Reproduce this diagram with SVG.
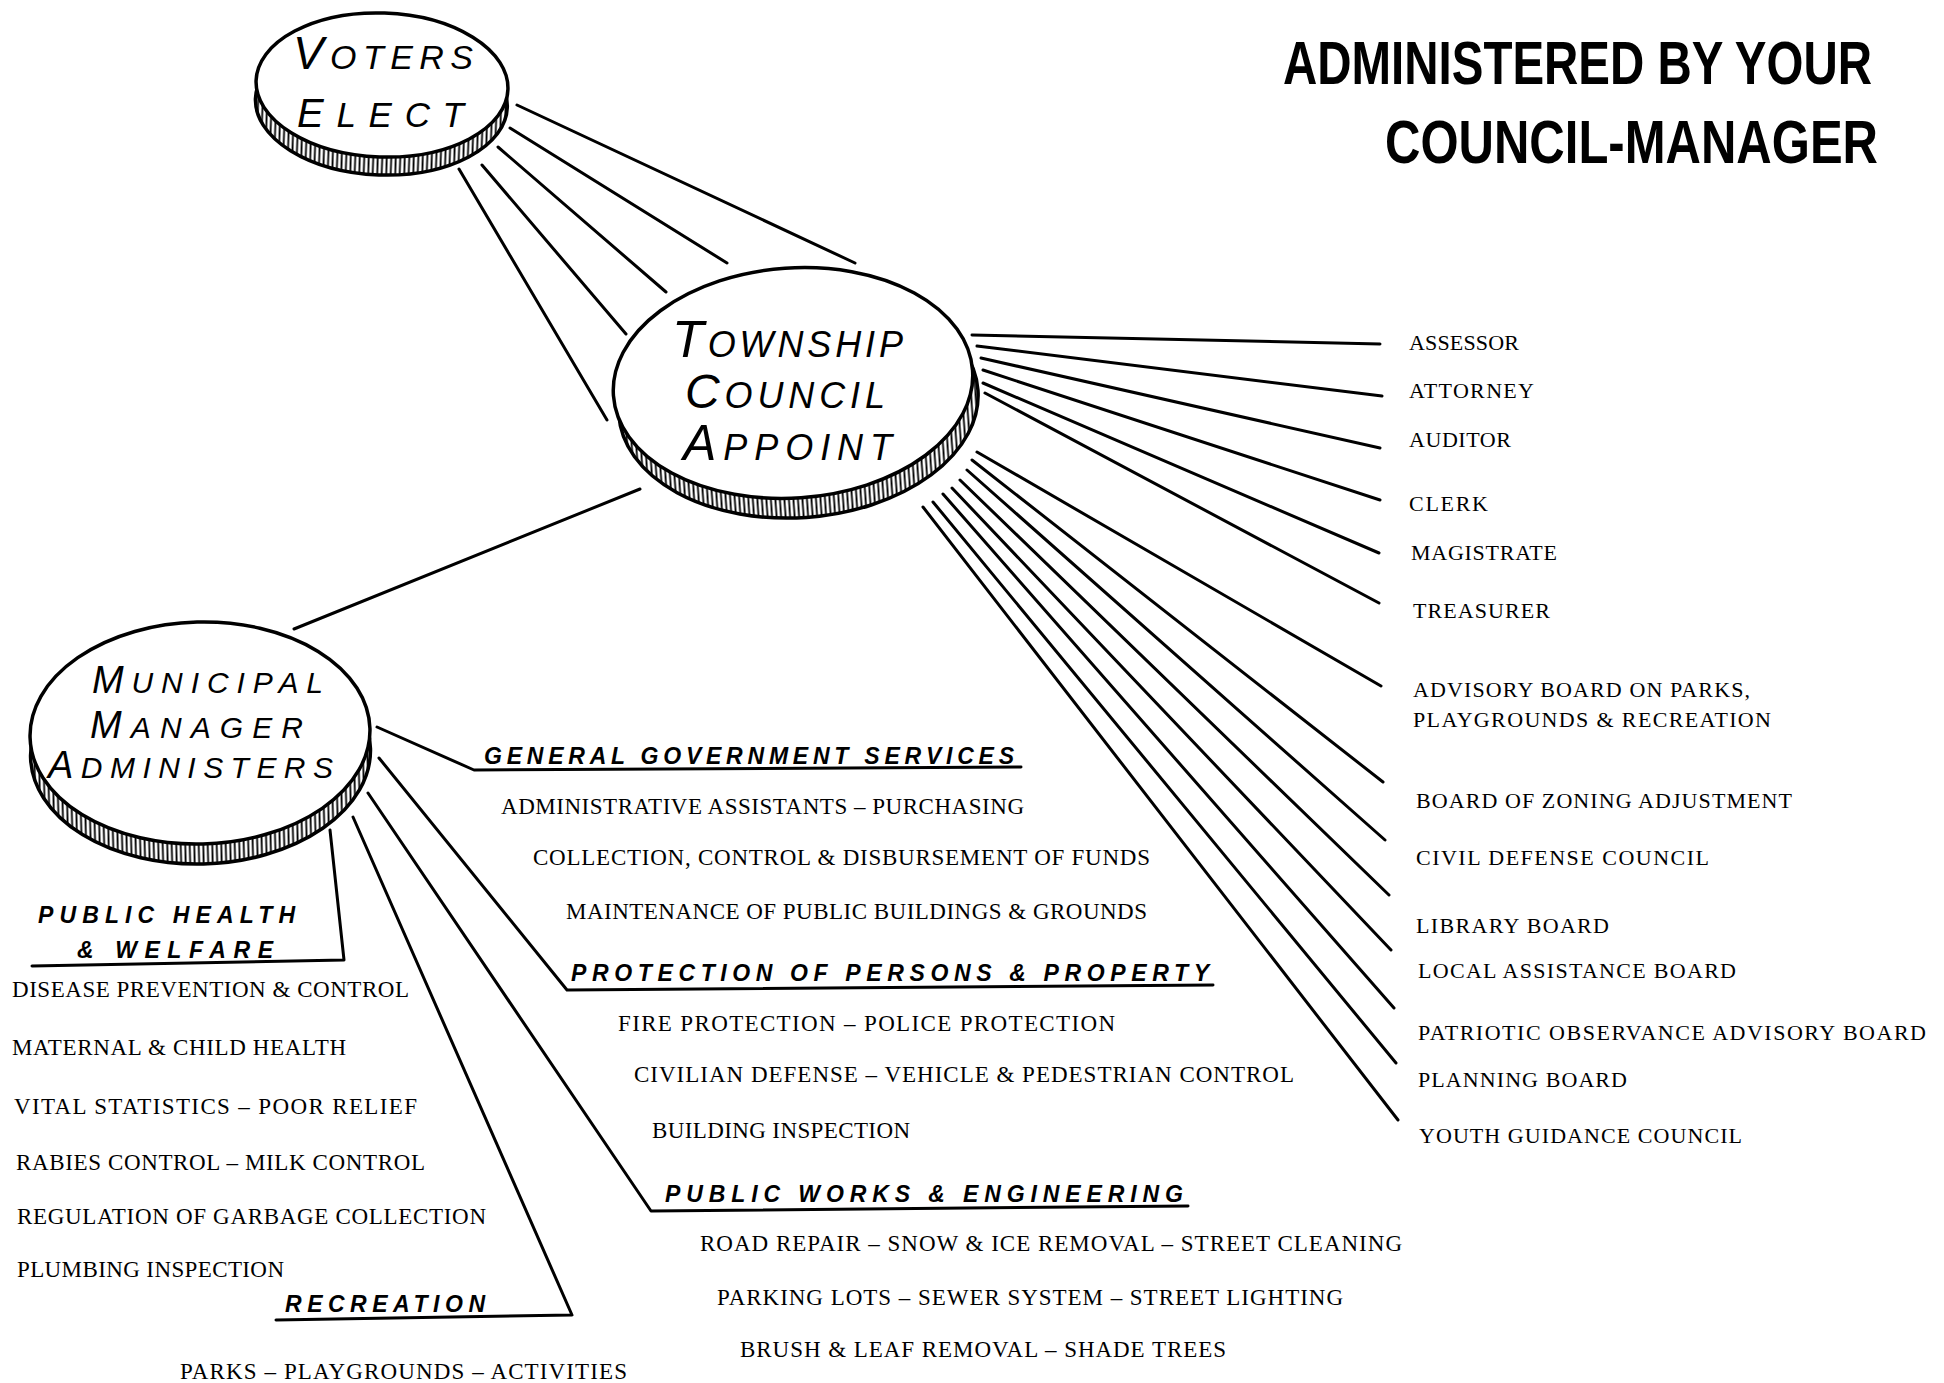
<svg xmlns="http://www.w3.org/2000/svg" width="1944" height="1383" viewBox="0 0 1944 1383">
<defs>
<pattern id="knurl" width="4.5" height="20" patternUnits="userSpaceOnUse">
<rect width="4.5" height="20" fill="#fff"/>
<rect x="1.4" width="1.8" height="20" fill="#000"/>
</pattern>
<style>
.ln{stroke:#000;stroke-width:3;fill:none;stroke-linecap:round;stroke-linejoin:round}
.face{fill:#fff;stroke:#000;stroke-width:3.5}
.rim{fill:url(#knurl);stroke:#000;stroke-width:3.5}
.cn{font-family:"Liberation Sans",Arial,sans-serif;font-style:italic;fill:#000}
.it{font-family:"Liberation Serif","Times New Roman",serif;font-size:23px;fill:#000}
.rt{font-family:"Liberation Serif","Times New Roman",serif;font-size:22px;fill:#000}
.hd{font-family:"Liberation Sans",Arial,sans-serif;font-weight:bold;font-style:italic;font-size:23px;fill:#000}
.tt{font-family:"Liberation Sans",Arial,sans-serif;font-weight:bold;font-size:47px;fill:#000}
</style>
</defs>
<rect width="1944" height="1383" fill="#fff"/>

<g id="connectors">
<!-- Voters to Township -->
<line class="ln" x1="517" y1="105" x2="855" y2="263"/>
<line class="ln" x1="510" y1="128" x2="727" y2="263"/>
<line class="ln" x1="498" y1="147" x2="666" y2="292"/>
<line class="ln" x1="482" y1="165" x2="626" y2="334"/>
<line class="ln" x1="459" y1="169" x2="607" y2="420"/>
<!-- Township to Municipal -->
<line class="ln" x1="640" y1="489" x2="294" y2="629"/>
<!-- Township to appointed offices -->
<line class="ln" x1="972" y1="335" x2="1380" y2="344"/>
<line class="ln" x1="977" y1="346" x2="1382" y2="396"/>
<line class="ln" x1="981" y1="358" x2="1380" y2="448"/>
<line class="ln" x1="983" y1="370" x2="1380" y2="500"/>
<line class="ln" x1="983" y1="383" x2="1379" y2="553"/>
<line class="ln" x1="985" y1="393" x2="1379" y2="603"/>
<line class="ln" x1="977" y1="452" x2="1381" y2="686"/>
<line class="ln" x1="972" y1="460" x2="1383" y2="782"/>
<line class="ln" x1="967" y1="470" x2="1385" y2="840"/>
<line class="ln" x1="960" y1="480" x2="1389" y2="895"/>
<line class="ln" x1="952" y1="488" x2="1391" y2="950"/>
<line class="ln" x1="943" y1="494" x2="1394" y2="1008"/>
<line class="ln" x1="933" y1="502" x2="1396" y2="1063"/>
<line class="ln" x1="923" y1="507" x2="1398" y2="1120"/>
<!-- Municipal branches -->
<polyline class="ln" points="377,727 474,770 1021,767"/>
<polyline class="ln" points="379,758 567,990 1213,985"/>
<polyline class="ln" points="368,793 651,1211 1188,1206"/>
<polyline class="ln" points="353,817 572,1315 276,1320"/>
<polyline class="ln" points="330,830 344,960 32,966"/>
</g>

<g id="node-voters">
<g transform="rotate(2 382 85)">
<ellipse class="rim" cx="382" cy="103" rx="126" ry="72"/>
<ellipse class="face" cx="382" cy="85" rx="126" ry="72"/>
</g>
<text class="cn" x="293" y="69" textLength="180" lengthAdjust="spacing"><tspan font-size="46">V</tspan><tspan font-size="34">OTERS</tspan></text>
<text class="cn" x="297" y="127" textLength="167" lengthAdjust="spacing"><tspan font-size="40">E</tspan><tspan font-size="35">LECT</tspan></text>
</g>

<g id="node-township">
<g transform="rotate(-4 793 383)">
<ellipse class="rim" cx="797" cy="403" rx="180" ry="115"/>
<ellipse class="face" cx="793" cy="383" rx="180" ry="115"/>
</g>
<text class="cn" x="672" y="357" textLength="231" lengthAdjust="spacing"><tspan font-size="52">T</tspan><tspan font-size="36">OWNSHIP</tspan></text>
<text class="cn" x="685" y="408" textLength="200" lengthAdjust="spacing"><tspan font-size="48">C</tspan><tspan font-size="36">OUNCIL</tspan></text>
<text class="cn" x="683" y="460" textLength="209" lengthAdjust="spacing"><tspan font-size="50">A</tspan><tspan font-size="36">PPOINT</tspan></text>
</g>

<g id="node-municipal">
<g transform="rotate(-1.5 200 733)">
<ellipse class="rim" cx="200" cy="753" rx="170" ry="111"/>
<ellipse class="face" cx="200" cy="733" rx="170" ry="111"/>
</g>
<text class="cn" x="92" y="693" textLength="231" lengthAdjust="spacing"><tspan font-size="38">M</tspan><tspan font-size="30">UNICIPAL</tspan></text>
<text class="cn" x="90" y="738" textLength="213" lengthAdjust="spacing"><tspan font-size="38">M</tspan><tspan font-size="30">ANAGER</tspan></text>
<text class="cn" x="48" y="778" textLength="285" lengthAdjust="spacing"><tspan font-size="38">A</tspan><tspan font-size="30">DMINISTERS</tspan></text>
</g>

<g id="title">
<text class="tt" transform="translate(1283 84) scale(1 1.3)" x="0" y="0" textLength="589" lengthAdjust="spacingAndGlyphs">ADMINISTERED BY YOUR</text>
<text class="tt" transform="translate(1385 163) scale(1 1.3)" x="0" y="0" textLength="493" lengthAdjust="spacingAndGlyphs">COUNCIL-MANAGER</text>
</g>

<g id="appointed">
<text id="assessor" class="rt" x="1409" y="350" textLength="110">ASSESSOR</text>
<text id="attorney" class="rt" x="1409" y="398" textLength="125">ATTORNEY</text>
<text id="auditor" class="rt" x="1409" y="447" textLength="102">AUDITOR</text>
<text id="clerk" class="rt" x="1409" y="511" textLength="79">CLERK</text>
<text id="magistrate" class="rt" x="1411" y="560" textLength="146">MAGISTRATE</text>
<text id="treasurer" class="rt" x="1413" y="618" textLength="137">TREASURER</text>
<g id="advisory-board">
<text class="rt" x="1413" y="697" textLength="337">ADVISORY BOARD ON PARKS,</text>
<text class="rt" x="1413" y="727" textLength="358">PLAYGROUNDS &amp; RECREATION</text>
</g>
<text id="zoning" class="rt" x="1416" y="808" textLength="376">BOARD OF ZONING ADJUSTMENT</text>
<text id="civil-defense" class="rt" x="1416" y="865" textLength="293">CIVIL DEFENSE COUNCIL</text>
<text id="library" class="rt" x="1416" y="933" textLength="193">LIBRARY BOARD</text>
<text id="local-assistance" class="rt" x="1418" y="978" textLength="318">LOCAL ASSISTANCE BOARD</text>
<text id="patriotic" class="rt" x="1418" y="1040" textLength="508">PATRIOTIC OBSERVANCE ADVISORY BOARD</text>
<text id="planning" class="rt" x="1418" y="1087" textLength="209">PLANNING BOARD</text>
<text id="youth" class="rt" x="1419" y="1143" textLength="323">YOUTH GUIDANCE COUNCIL</text>
</g>

<g id="general-government">
<text class="hd" x="484" y="764" textLength="530">GENERAL GOVERNMENT SERVICES</text>
<text class="it" x="501" y="814" textLength="523">ADMINISTRATIVE ASSISTANTS – PURCHASING</text>
<text class="it" x="533" y="865" textLength="617">COLLECTION, CONTROL &amp; DISBURSEMENT OF FUNDS</text>
<text class="it" x="566" y="919" textLength="581">MAINTENANCE OF PUBLIC BUILDINGS &amp; GROUNDS</text>
</g>

<g id="protection">
<text class="hd" x="571" y="981" textLength="638">PROTECTION OF PERSONS &amp; PROPERTY</text>
<text class="it" x="618" y="1031" textLength="497">FIRE PROTECTION – POLICE PROTECTION</text>
<text class="it" x="634" y="1082" textLength="660">CIVILIAN DEFENSE – VEHICLE &amp; PEDESTRIAN CONTROL</text>
<text class="it" x="652" y="1138" textLength="258">BUILDING INSPECTION</text>
</g>

<g id="public-works">
<text class="hd" x="665" y="1202" textLength="518">PUBLIC WORKS &amp; ENGINEERING</text>
<text class="it" x="700" y="1251" textLength="702">ROAD REPAIR – SNOW &amp; ICE REMOVAL – STREET CLEANING</text>
<text class="it" x="717" y="1305" textLength="626">PARKING LOTS – SEWER SYSTEM – STREET LIGHTING</text>
<text class="it" x="740" y="1357" textLength="486">BRUSH &amp; LEAF REMOVAL – SHADE TREES</text>
</g>

<g id="public-health">
<text class="hd" x="38" y="923" textLength="257">PUBLIC HEALTH</text>
<text class="hd" x="77" y="958" textLength="196">&amp; WELFARE</text>
<text class="it" x="12" y="997" textLength="397">DISEASE PREVENTION &amp; CONTROL</text>
<text class="it" x="12" y="1055" textLength="334">MATERNAL &amp; CHILD HEALTH</text>
<text class="it" x="14" y="1114" textLength="403">VITAL STATISTICS – POOR RELIEF</text>
<text class="it" x="16" y="1170" textLength="409">RABIES CONTROL – MILK CONTROL</text>
<text class="it" x="17" y="1224" textLength="469">REGULATION OF GARBAGE COLLECTION</text>
<text class="it" x="17" y="1277" textLength="267">PLUMBING INSPECTION</text>
</g>

<g id="recreation">
<text class="hd" x="285" y="1312" textLength="200">RECREATION</text>
<text class="it" x="180" y="1379" textLength="447">PARKS – PLAYGROUNDS – ACTIVITIES</text>
</g>
</svg>
